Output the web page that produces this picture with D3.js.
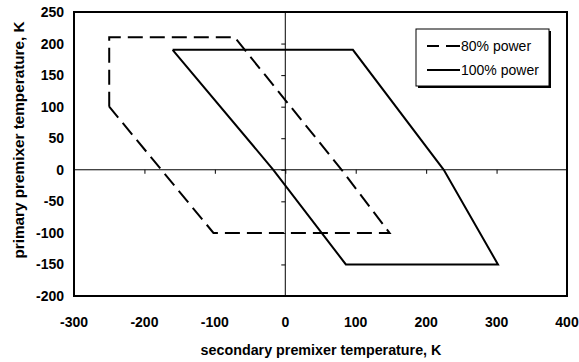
<!DOCTYPE html>
<html><head><meta charset="utf-8">
<script src="https://cdn.jsdelivr.net/npm/d3@7"></script>
<style>body{margin:0;background:#fff;}svg{display:block;font-family:"Liberation Sans",Arial,sans-serif;}</style>
</head><body>
<svg id="c" width="579" height="362"></svg>
<script>
const xTicks = [-300,-200,-100,0,100,200,300,400];
const yTicks = [-200,-150,-100,-50,0,50,100,150,200,250];
const seriesNames = ["80% power","100% power"];
const power80 = [[-250,100],[-250,210],[-72,210],[80,0],[148,-100],[-102,-100],[-250,100]];
const power100 = [[-160,190],[96,190],[225,0],[302,-150],[86,-150],[-17,0],[-160,190]];

const svg = d3.select("#c");
const L=74,T=12,R=567,B=296;
const x = d3.scaleLinear().domain([-300,400]).range([L,R]);
const y = d3.scaleLinear().domain([-200,250]).range([B,T]);

// zero axes with ticks
svg.append("line").attr("x1",L).attr("x2",R).attr("y1",y(0)).attr("y2",y(0)).attr("stroke","#000").attr("stroke-width",1);
svg.append("line").attr("x1",x(0)).attr("x2",x(0)).attr("y1",T).attr("y2",B).attr("stroke","#000").attr("stroke-width",1);
const xa = svg.append("g").attr("transform",`translate(0,${y(0)})`)
  .call(d3.axisBottom(x).tickValues(xTicks).tickSize(4).tickFormat(""));
xa.select(".domain").remove();
const ya = svg.append("g").attr("transform",`translate(${x(0)},0)`)
  .call(d3.axisLeft(y).tickValues(yTicks).tickSize(4).tickFormat(""));
ya.select(".domain").remove();

// tick labels at frame
svg.append("g").selectAll("text").data(xTicks).join("text")
  .attr("x",d=>x(d)).attr("y",B+31).attr("text-anchor","middle")
  .attr("font-size",14).attr("font-weight","bold").text(d=>d);
svg.append("g").selectAll("text").data(yTicks).join("text")
  .attr("x",L-10).attr("y",d=>y(d)+5).attr("text-anchor","end")
  .attr("font-size",14).attr("font-weight","bold").text(d=>d);

// frame
svg.append("rect").attr("x",L).attr("y",T).attr("width",R-L).attr("height",B-T)
  .attr("fill","none").attr("stroke","#000").attr("stroke-width",2);

const line = d3.line().x(d=>x(d[0])).y(d=>y(d[1]));
svg.append("path").datum(power80).attr("d",line).attr("fill","none").attr("stroke","#000")
  .attr("stroke-width",2).attr("stroke-dasharray","15,7");
svg.append("path").datum(power100).attr("d",line).attr("fill","none").attr("stroke","#000")
  .attr("stroke-width",2);

// legend
const lg = svg.append("g");
lg.append("rect").attr("x",418).attr("y",31).attr("width",133).attr("height",57).attr("fill","#000");
lg.append("rect").attr("x",416).attr("y",29).attr("width",133).attr("height",57).attr("fill","#fff").attr("stroke","#000").attr("stroke-width",1);
const ly = [46,70];
seriesNames.forEach((n,i)=>{
  lg.append("line").attr("x1",427).attr("x2",460).attr("y1",ly[i]).attr("y2",ly[i])
    .attr("stroke","#000").attr("stroke-width",2).attr("stroke-dasharray",i===0?"12,7,15":null);
  lg.append("text").attr("x",461).attr("y",ly[i]+5).attr("font-size",14).text(n);
});

// axis titles
svg.append("text").attr("x",321).attr("y",355).attr("text-anchor","middle")
  .attr("font-size",14.3).attr("font-weight","bold").text("secondary premixer temperature, K");
svg.append("text").attr("transform",`translate(24,140) rotate(-90)`).attr("text-anchor","middle")
  .attr("font-size",15.3).attr("font-weight","bold").text("primary premixer temperature, K");
</script>
</body></html>
